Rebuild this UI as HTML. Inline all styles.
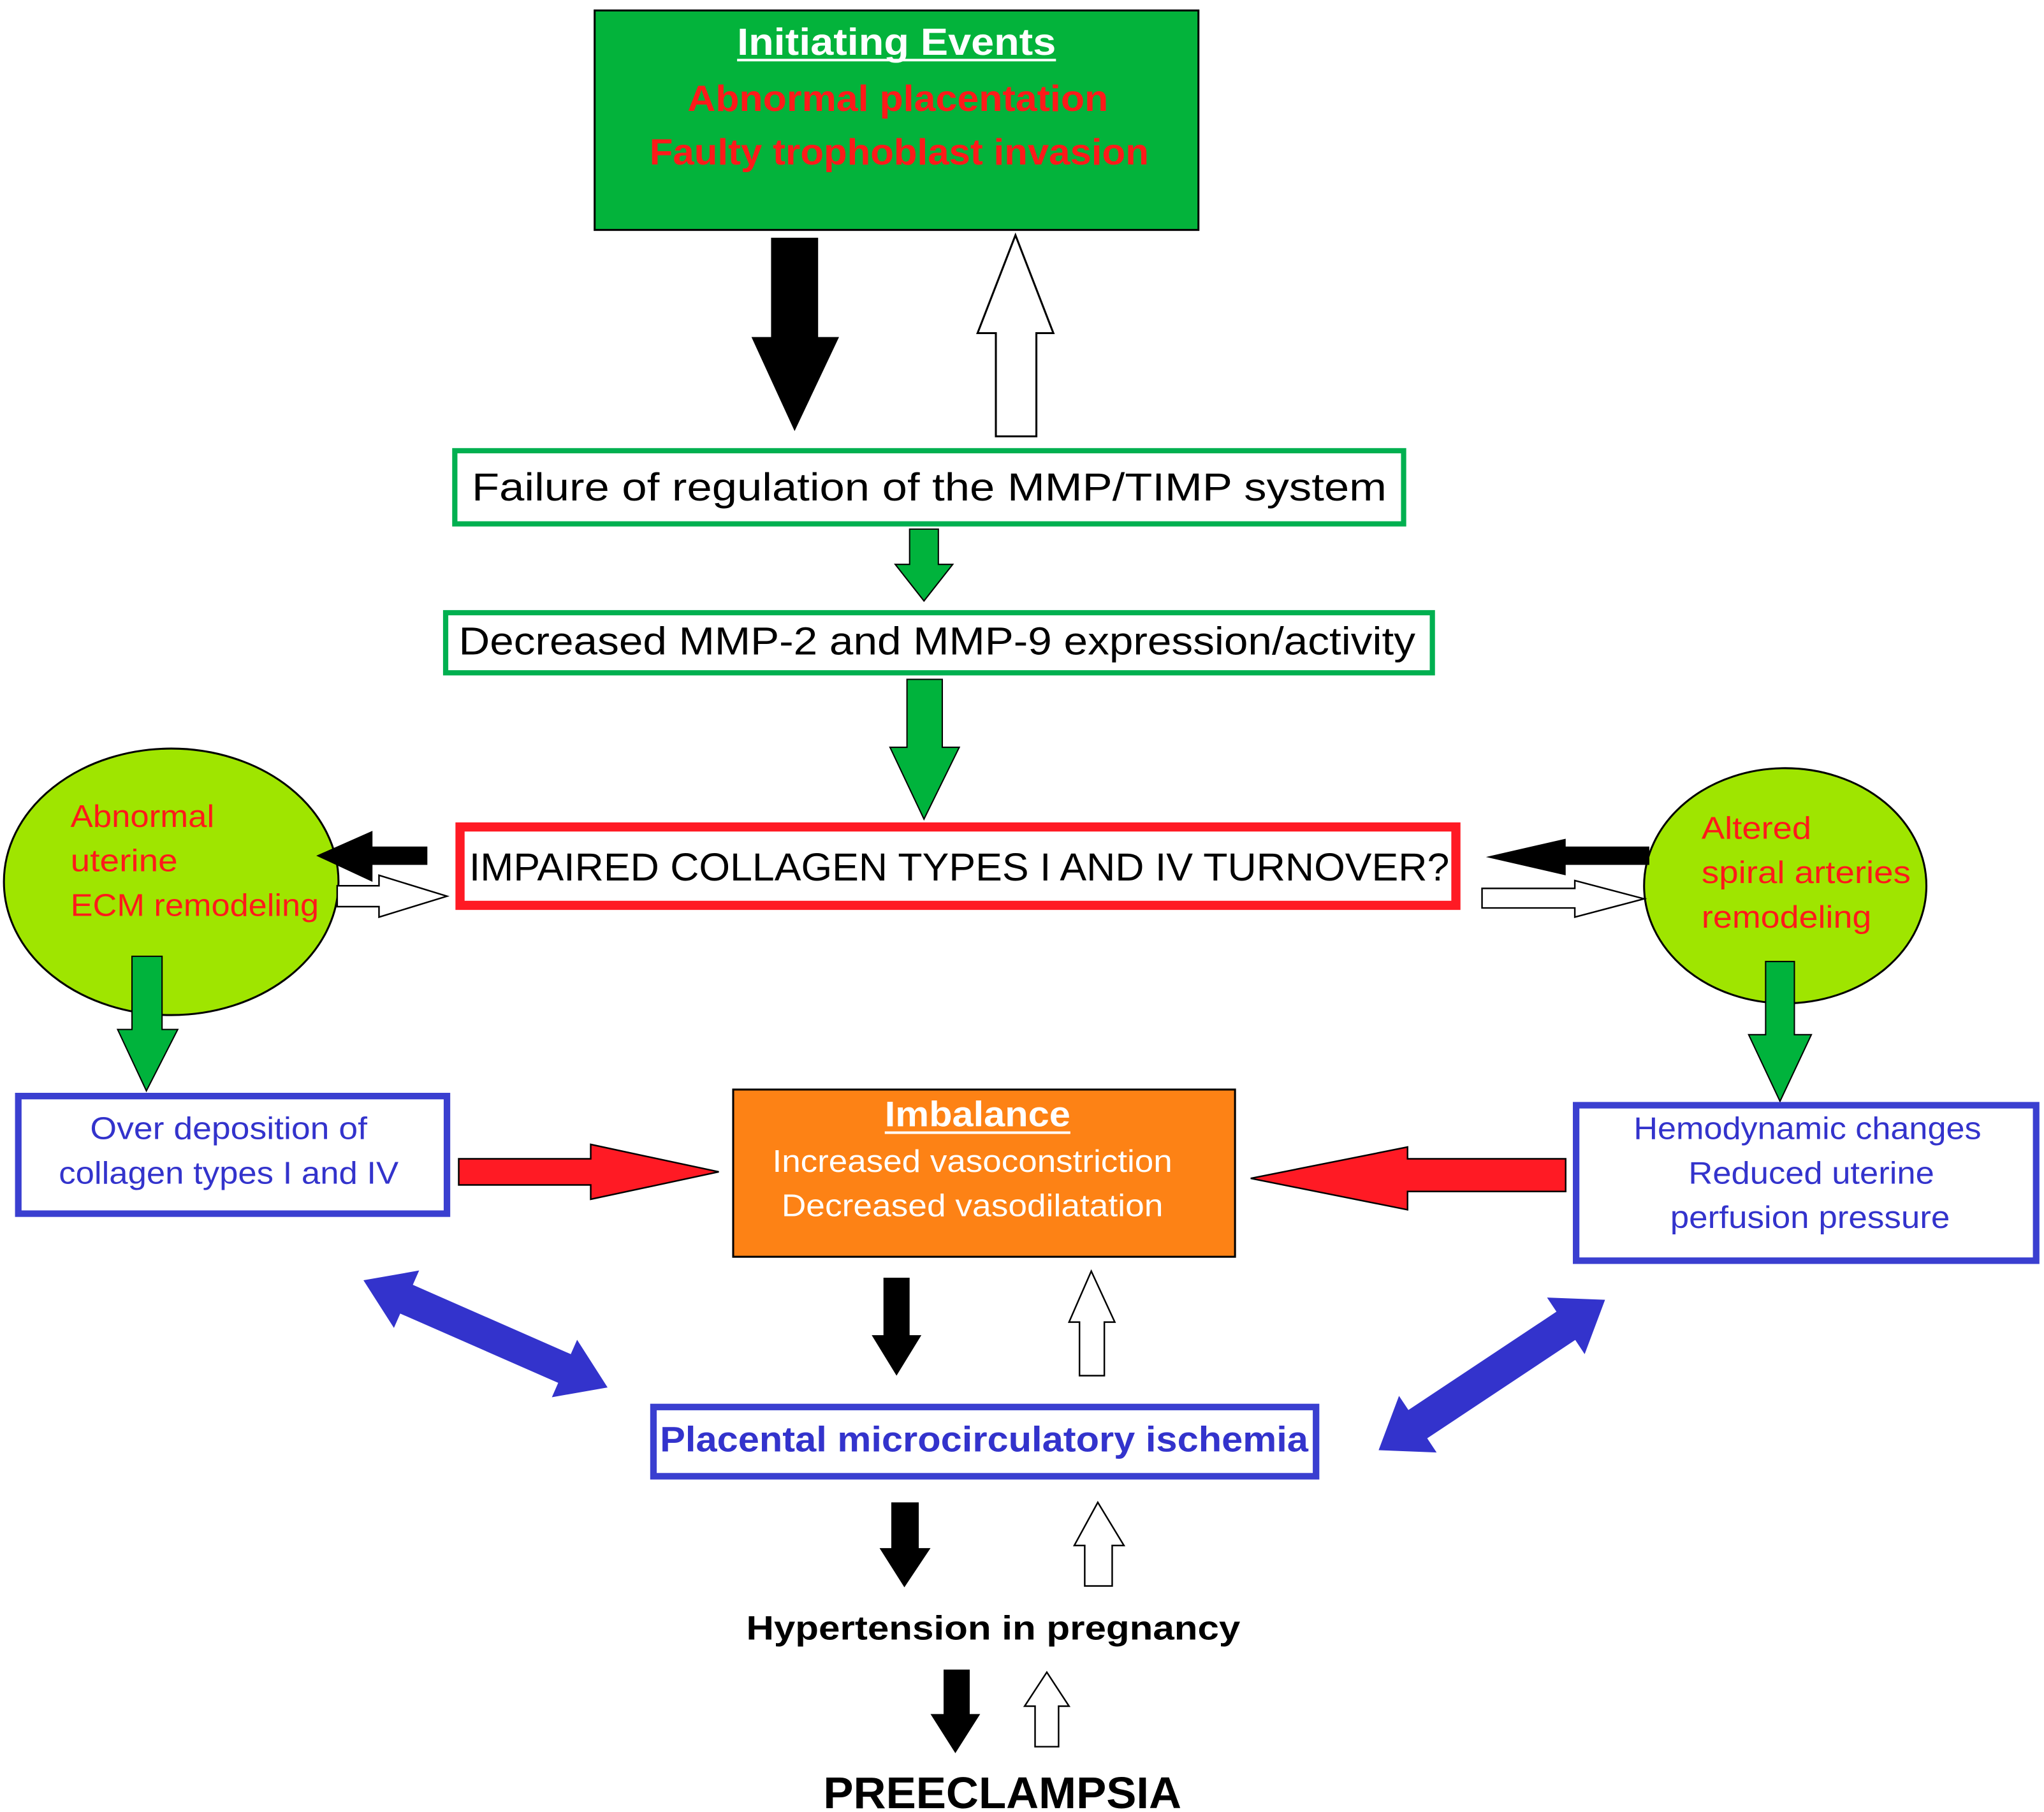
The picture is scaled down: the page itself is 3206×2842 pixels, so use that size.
<!DOCTYPE html>
<html><head><meta charset="utf-8"><style>html,body{margin:0;padding:0;background:#fff}svg{display:block}</style></head><body>
<svg width="3206" height="2842" viewBox="0 0 1564 1387" preserveAspectRatio="none" xmlns="http://www.w3.org/2000/svg" font-family="Liberation Sans, sans-serif">
<rect width="1564" height="1387" fill="#fff"/>
<rect x="455" y="8" width="462" height="168" fill="#03b33b" stroke="#000" stroke-width="1.5"/>
<text x="686" y="42" text-anchor="middle" font-size="29" font-weight="bold" fill="#fff" textLength="244" lengthAdjust="spacingAndGlyphs">Initiating Events</text>
<line x1="564" y1="46" x2="808" y2="46" stroke="#fff" stroke-width="2"/>
<text x="687" y="85" text-anchor="middle" font-size="28" font-weight="bold" fill="#ff1a1a" textLength="322" lengthAdjust="spacingAndGlyphs">Abnormal placentation</text>
<text x="688" y="126" text-anchor="middle" font-size="28" font-weight="bold" fill="#ff1a1a" textLength="382" lengthAdjust="spacingAndGlyphs">Faulty trophoblast invasion</text>
<polygon points="590,182 626,182 626,258 642,258 608,330 575,258 590,258" fill="#000"/>
<polygon points="777,180 806,255 793,255 793,334 762,334 762,255 748,255" fill="#fff" stroke="#000" stroke-width="1.5"/>
<rect x="348" y="345" width="726" height="56" fill="#fff" stroke="#00b050" stroke-width="4"/>
<text x="711" y="383" text-anchor="middle" font-size="30" fill="#000" textLength="700" lengthAdjust="spacingAndGlyphs">Failure of regulation of the MMP/TIMP system</text>
<polygon points="696,405 718,405 718,432 729,432 707,460 685,432 696,432" fill="#00b33c" stroke="#000" stroke-width="1"/>
<rect x="341" y="469" width="755" height="46" fill="#fff" stroke="#00b050" stroke-width="4"/>
<text x="717" y="501" text-anchor="middle" font-size="30" fill="#000" textLength="732" lengthAdjust="spacingAndGlyphs">Decreased MMP-2 and MMP-9 expression/activity</text>
<polygon points="694,520 721,520 721,572 734,572 707,627 681,572 694,572" fill="#00b33c" stroke="#000" stroke-width="1"/>
<rect x="352" y="633" width="762" height="60" fill="#fff" stroke="#ff1a24" stroke-width="7"/>
<text x="734" y="674" text-anchor="middle" font-size="30" fill="#000" textLength="750" lengthAdjust="spacingAndGlyphs">IMPAIRED COLLAGEN TYPES I AND IV TURNOVER?</text>
<ellipse cx="131" cy="675" rx="128" ry="102" fill="#9fe500" stroke="#000" stroke-width="1.5"/>
<g font-size="24" fill="#ff1a1a">
<text x="54" y="633" textLength="110" lengthAdjust="spacingAndGlyphs">Abnormal</text>
<text x="54" y="667" textLength="82" lengthAdjust="spacingAndGlyphs">uterine</text>
<text x="54" y="701" textLength="190" lengthAdjust="spacingAndGlyphs">ECM remodeling</text>
</g>
<ellipse cx="1366" cy="678" rx="108" ry="90" fill="#9fe500" stroke="#000" stroke-width="1.5"/>
<g font-size="24" fill="#ff1a1a">
<text x="1302" y="642" textLength="84" lengthAdjust="spacingAndGlyphs">Altered</text>
<text x="1302" y="676" textLength="160" lengthAdjust="spacingAndGlyphs">spiral arteries</text>
<text x="1302" y="710" textLength="130" lengthAdjust="spacingAndGlyphs">remodeling</text>
</g>
<polygon points="242,655 285,636 285,648 327,648 327,662 285,662 285,675" fill="#000"/>
<polygon points="258,678 290,678 290,670 342,686 290,702 290,694 258,694" fill="#fff" stroke="#000" stroke-width="1.2"/>
<polygon points="1137,656 1198,642 1198,648 1262,648 1262,662 1198,662 1198,670" fill="#000"/>
<polygon points="1134,680 1205,680 1205,674 1258,688 1205,702 1205,695 1134,695" fill="#fff" stroke="#000" stroke-width="1.2"/>
<polygon points="101,732 124,732 124,788 136,788 112,835 90,788 101,788" fill="#00b33c" stroke="#000" stroke-width="1"/>
<polygon points="1351,736 1373,736 1373,792 1386,792 1362,843 1338,792 1351,792" fill="#00b33c" stroke="#000" stroke-width="1"/>
<rect x="14" y="839" width="328" height="90" fill="#fff" stroke="#3a3fd0" stroke-width="5"/>
<text x="175" y="872" text-anchor="middle" font-size="24" fill="#3333cc" textLength="212" lengthAdjust="spacingAndGlyphs">Over deposition of</text>
<text x="175" y="906" text-anchor="middle" font-size="24" fill="#3333cc" textLength="260" lengthAdjust="spacingAndGlyphs">collagen types I and IV</text>
<rect x="561" y="834" width="384" height="128" fill="#fd8215" stroke="#000" stroke-width="1.5"/>
<text x="748" y="862" text-anchor="middle" font-size="27" font-weight="bold" fill="#fff" textLength="142" lengthAdjust="spacingAndGlyphs">Imbalance</text>
<line x1="677" y1="867" x2="819" y2="867" stroke="#fff" stroke-width="2"/>
<text x="744" y="897" text-anchor="middle" font-size="24" fill="#fff" textLength="306" lengthAdjust="spacingAndGlyphs">Increased vasoconstriction</text>
<text x="744" y="931" text-anchor="middle" font-size="24" fill="#fff" textLength="292" lengthAdjust="spacingAndGlyphs">Decreased vasodilatation</text>
<polygon points="351,887 452,887 452,876 550,897 452,918 452,907 351,907" fill="#ff1a24" stroke="#000" stroke-width="1.2"/>
<polygon points="957,902 1077,878 1077,887 1198,887 1198,912 1077,912 1077,926" fill="#ff1a24" stroke="#000" stroke-width="1.2"/>
<rect x="1206" y="846" width="352" height="119" fill="#fff" stroke="#3a3fd0" stroke-width="5"/>
<text x="1383" y="872" text-anchor="middle" font-size="24" fill="#3333cc" textLength="266" lengthAdjust="spacingAndGlyphs">Hemodynamic changes</text>
<text x="1386" y="906" text-anchor="middle" font-size="24" fill="#3333cc" textLength="188" lengthAdjust="spacingAndGlyphs">Reduced uterine</text>
<text x="1385" y="940" text-anchor="middle" font-size="24" fill="#3333cc" textLength="214" lengthAdjust="spacingAndGlyphs">perfusion pressure</text>
<g fill="#3333cc">
<polygon transform="translate(371.5,1021) rotate(23.7)" points="-102,0 -66,-24 -66,-12 66,-12 66,-24 102,0 66,24 66,12 -66,12 -66,24"/>
<polygon transform="translate(1141.5,1052.5) rotate(-33.6)" points="-104,0 -68,-26 -68,-13 68,-13 68,-26 104,0 68,26 68,13 -68,13 -68,26"/>
</g>
<polygon points="676,978 696,978 696,1022 705,1022 686,1053 667,1022 676,1022" fill="#000"/>
<polygon points="835,973 853,1012 845,1012 845,1053 826,1053 826,1012 818,1012" fill="#fff" stroke="#000" stroke-width="1.2"/>
<rect x="500" y="1077" width="507" height="53" fill="#fff" stroke="#3a3fd0" stroke-width="5"/>
<text x="753" y="1111" text-anchor="middle" font-size="27" font-weight="bold" fill="#3333cc" textLength="496" lengthAdjust="spacingAndGlyphs">Placental microcirculatory ischemia</text>
<polygon points="682,1150 703,1150 703,1185 712,1185 692,1215 673,1185 682,1185" fill="#000"/>
<polygon points="840,1150 860,1183 851,1183 851,1214 830,1214 830,1183 822,1183" fill="#fff" stroke="#000" stroke-width="1.2"/>
<text x="760" y="1255" text-anchor="middle" font-size="26" font-weight="bold" fill="#000" textLength="378" lengthAdjust="spacingAndGlyphs">Hypertension in pregnancy</text>
<polygon points="722,1278 742,1278 742,1312 750,1312 731,1342 712,1312 722,1312" fill="#000"/>
<polygon points="801,1280 818,1306 810,1306 810,1337 792,1337 792,1306 784,1306" fill="#fff" stroke="#000" stroke-width="1.2"/>
<text x="767" y="1384" text-anchor="middle" font-size="34" font-weight="bold" fill="#000" textLength="274" lengthAdjust="spacingAndGlyphs">PREECLAMPSIA</text>
</svg>
</body></html>
